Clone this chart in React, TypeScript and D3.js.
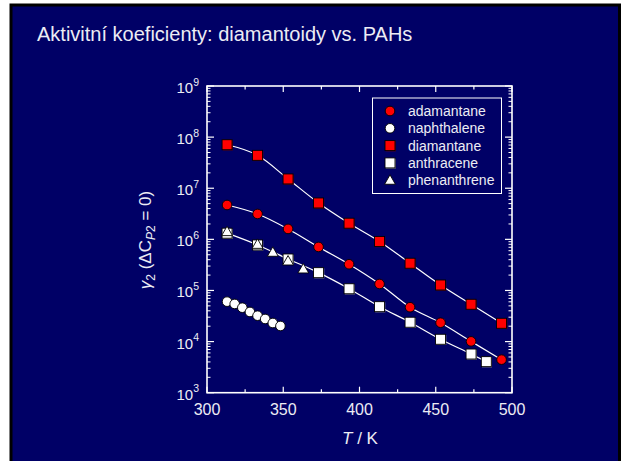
import React from "react";
import * as d3 from "d3";

// values (T in K, gamma_2 at infinite dilution)
const adamantaneT = [313.15, 333.15, 353.15, 373.15, 393.15, 413.15, 433.15, 453.15, 473.15, 493.15];
const adamantaneG = [4.7e6, 3.14e6, 1.6e6, 7.1e5, 3.26e5, 1.34e5, 4.7e4, 2.34e4, 1.01e4, 4.43e3];

const naphthaleneT = [313.15, 318.15, 323.15, 328.15, 333.15, 338.15, 343.15, 348.15];
const naphthaleneG = [6.04e4, 5.45e4, 4.6e4, 3.8e4, 3.21e4, 2.77e4, 2.31e4, 2.02e4];

const diamantaneT = [313.15, 333.15, 353.15, 373.15, 393.15, 413.15, 433.15, 453.15, 473.15, 493.15];
const diamantaneG = [7.1e7, 4.4e7, 1.52e7, 5.15e6, 2.07e6, 9.1e5, 3.41e5, 1.28e5, 5.37e4, 2.28e4];

const anthraceneT = [313.15, 333.15, 353.15, 373.15, 393.15, 413.15, 433.15, 453.15, 473.15, 483.15];
const anthraceneG = [1.32e6, 7.77e5, 4.13e5, 2.23e5, 1.08e5, 4.82e4, 2.39e4, 1.11e4, 5.71e3, 4.05e3];

const phenanthreneT = [313.15, 333.15, 343.15, 353.15, 363.15];
const phenanthreneG = [1.42e6, 8.0e5, 5.6e5, 3.78e5, 2.64e5];

const xTicks = [300, 350, 400, 450, 500];
const yExponents = [3, 4, 5, 6, 7, 8, 9];
const legendNames = ["adamantane", "naphthalene", "diamantane", "anthracene", "phenanthrene"];

const W = 623;
const H = 461;
const BG = "#000066";
const FG = "#ffffff";
const TXT = "#ececf4";
const FONT = "'Liberation Sans', Arial, sans-serif";

const x = d3.scaleLinear().domain([300, 500]).range([207, 512]);
const y = d3.scaleLog().domain([1e3, 1e9]).range([392.7, 86]);

type Pt = { t: number; g: number };
const zip = (ts: number[], gs: number[]): Pt[] => ts.map((t, i) => ({ t, g: gs[i] }));

const line = d3
  .line<Pt>()
  .x((d) => x(d.t))
  .y((d) => y(d.g))
  .curve(d3.curveMonotoneX);

const Marker: React.FC<{ kind: string; fill: string; cx: number; cy: number }> = ({ kind, fill, cx, cy }) => {
  const shadow = fill === "#ffffff" ? "#9a9a9a" : "#7a0000";
  if (kind === "circle")
    return <circle cx={cx} cy={cy} r={4.8} fill={fill} stroke="#000" strokeWidth={0.9} />;
  if (kind === "square")
    return (
      <g>
        <rect x={cx - 4.3} y={cy - 4.3} width={10} height={10} fill={shadow} />
        <rect x={cx - 5} y={cy - 5} width={10} height={10} fill={fill} stroke="#000" strokeWidth={0.9} />
      </g>
    );
  const s = 5.4;
  return (
    <path
      d={`M${cx},${cy - s} L${cx + s},${cy + s * 0.75} L${cx - s},${cy + s * 0.75} Z`}
      fill={fill}
      stroke="#000"
      strokeWidth={0.9}
    />
  );
};

const series = [
  { name: "adamantane", data: zip(adamantaneT, adamantaneG), kind: "circle", fill: "#ff0000" },
  { name: "naphthalene", data: zip(naphthaleneT, naphthaleneG), kind: "circle", fill: "#ffffff" },
  { name: "diamantane", data: zip(diamantaneT, diamantaneG), kind: "square", fill: "#ff0000" },
  { name: "anthracene", data: zip(anthraceneT, anthraceneG), kind: "square", fill: "#ffffff" },
  { name: "phenanthrene", data: zip(phenanthreneT, phenanthreneG), kind: "triangle", fill: "#ffffff" },
];

// fitted curves are drawn for these three
const fitted = ["diamantane", "adamantane", "anthracene"];

export default function App() {
  const [x0, x1] = x.range();
  const [yb, yt] = y.range();
  const xMinor = d3.range(300, 501, 25);
  const yMinor: number[] = [];
  for (let e = 3; e < 9; e++) for (let m = 2; m <= 9; m++) yMinor.push(m * Math.pow(10, e));

  return (
    <svg
      width={W}
      height={H}
      style={{ position: "absolute", left: 0, top: 0, background: "#ffffff" }}
      fontFamily={FONT}
    >
      <rect x={11} y={5} width={608.5} height={H} fill={BG} stroke="#000" strokeWidth={3} />

      <text x={37} y={41} fill={TXT} fontSize={20}>
        Aktivitní koeficienty: diamantoidy vs. PAHs
      </text>

      {/* fit lines */}
      {series
        .filter((s) => fitted.includes(s.name))
        .map((s) => (
          <path key={s.name} d={line(s.data) || ""} fill="none" stroke={FG} strokeWidth={1.2} />
        ))}

      {/* markers */}
      {series.map((s) =>
        s.data.map((d, i) => (
          <Marker key={s.name + i} kind={s.kind} fill={s.fill} cx={x(d.t)} cy={y(d.g)} />
        ))
      )}

      {/* axes frame */}
      <rect x={x0} y={yt} width={x1 - x0} height={yb - yt} fill="none" stroke={FG} strokeWidth={1.6} />

      {/* x ticks, bottom and top, pointing inward */}
      {xMinor.map((v) => {
        const major = v % 50 === 0;
        const len = major ? 6 : 3.5;
        return (
          <g key={"xt" + v} stroke={FG} strokeWidth={1.2}>
            <line x1={x(v)} x2={x(v)} y1={yb} y2={yb - len} />
            <line x1={x(v)} x2={x(v)} y1={yt} y2={yt + len} />
          </g>
        );
      })}
      {xTicks.map((v) => (
        <text key={"xl" + v} x={x(v)} y={414.5} fill={TXT} fontSize={16} textAnchor="middle">
          {v}
        </text>
      ))}

      {/* y ticks, left and right, pointing inward */}
      {yExponents.map((e) => {
        const v = Math.pow(10, e);
        return (
          <g key={"yt" + e} stroke={FG} strokeWidth={1.2}>
            <line x1={x0} x2={x0 + 7} y1={y(v)} y2={y(v)} />
            <line x1={x1} x2={x1 - 7} y1={y(v)} y2={y(v)} />
          </g>
        );
      })}
      {yMinor.map((v, i) => (
        <g key={"ym" + i} stroke={FG} strokeWidth={1}>
          <line x1={x0} x2={x0 + 3.5} y1={y(v)} y2={y(v)} />
          <line x1={x1} x2={x1 - 3.5} y1={y(v)} y2={y(v)} />
        </g>
      ))}
      {yExponents.map((e) => (
        <text key={"yl" + e} x={199} y={y(Math.pow(10, e)) + 7} fill={TXT} fontSize={15} textAnchor="end">
          10
          <tspan fontSize={10.5} dy={-7.5}>
            {e}
          </tspan>
        </text>
      ))}

      {/* axis titles */}
      <text x={360} y={444} fill={TXT} fontSize={17} textAnchor="middle">
        <tspan fontStyle="italic">T</tspan> / K
      </text>
      <text
        transform="translate(151,240) rotate(-90)"
        fill={TXT}
        fontSize={17}
        textAnchor="middle"
      >
        <tspan fontStyle="italic">γ</tspan>
        <tspan fontSize={12} dy={4}>
          2
        </tspan>
        <tspan dy={-4}> (ΔC</tspan>
        <tspan fontSize={12} dy={4} fontStyle="italic">
          P
        </tspan>
        <tspan fontSize={12}>2</tspan>
        <tspan dy={-4}> = 0)</tspan>
      </text>

      {/* legend */}
      <rect x={372.5} y={98} width={129} height={95.5} fill={BG} stroke={FG} strokeWidth={1} />
      {legendNames.map((n, i) => {
        const s = series.find((q) => q.name === n)!;
        const cy = 111 + i * 17.3;
        return (
          <g key={"lg" + n}>
            <Marker kind={s.kind} fill={s.fill} cx={390} cy={cy} />
            <text x={408} y={cy + 5} fill={TXT} fontSize={14}>
              {n}
            </text>
          </g>
        );
      })}
    </svg>
  );
}
